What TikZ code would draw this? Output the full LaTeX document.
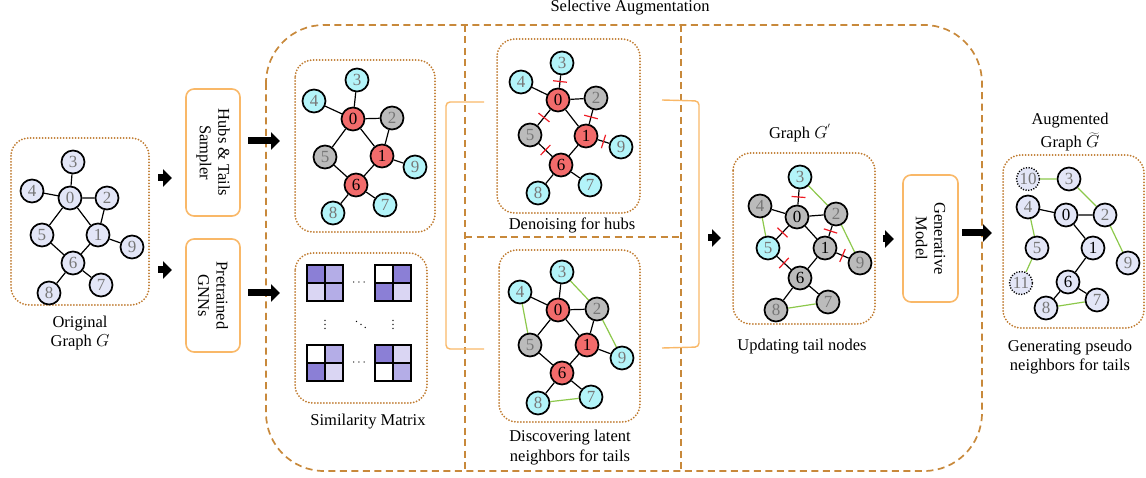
\documentclass[tikz,border=0pt]{standalone}
\usepackage{fontspec}
\setmainfont{Liberation Serif}
\usetikzlibrary{arrows.meta,calc}

\definecolor{dashbrown}{HTML}{C8893B}
\definecolor{dotbrown}{HTML}{BF7A2E}
\definecolor{boxorange}{HTML}{F9B868}
\definecolor{lav}{HTML}{E3E6F7}
\definecolor{cyanf}{HTML}{B3F4F9}
\definecolor{redf}{HTML}{F26B6B}
\definecolor{grayf}{HTML}{BBBBBB}
\definecolor{numgray}{HTML}{777777}
\definecolor{edgegreen}{HTML}{8CC84B}
\definecolor{cutred}{HTML}{EE1C25}
\definecolor{mdark}{HTML}{8B7FD6}
\definecolor{mmed}{HTML}{B4ADE7}
\definecolor{mlight}{HTML}{DAD6F3}

\newcommand\lblfont{\fontsize{16.5}{18.5}\selectfont}
\newcommand\numfont{\fontsize{17}{17}\selectfont}

% one 2x2 block of the similarity matrix: x, y (top left), then the four cell colours
\newcommand\simblock[6]{%
  \fill[#3] (#1,#2) rectangle ++(18,18);
  \fill[#4] (#1+18,#2) rectangle ++(18,18);
  \fill[#5] (#1,#2+18) rectangle ++(18,18);
  \fill[#6] (#1+18,#2+18) rectangle ++(18,18);
  \draw[line width=1.5pt] (#1,#2) rectangle ++(36,36);
  \draw[line width=1.5pt] (#1+18,#2) -- ++(0,36) (#1,#2+18) -- ++(36,0);
}

\tikzset{
  gn/.style={circle, draw=black, line width=1.7pt, minimum size=23pt, inner sep=0pt, font=\numfont, text=numgray},
  lv/.style={gn, fill=lav},
  cy/.style={gn, fill=cyanf},
  rd/.style={gn, fill=redf, text=black},
  gy/.style={gn, fill=grayf},
  hub/.style={text=black},
  ghost/.style={gn, fill=lav, dash pattern=on 1.2pt off 1.5pt, line width=1.4pt},
  ed/.style={line width=1.2pt, black},
  gr/.style={line width=1.2pt, edgegreen},
  cut/.style={sloped, rectangle, draw=cutred, line width=1.2pt, minimum width=0pt, minimum height=14pt, inner sep=0pt},
  dotbox/.style={draw=dotbrown, line width=2pt, dash pattern=on 0pt off 3pt, line cap=round, rounded corners=18pt},
  obox/.style={draw=boxorange, line width=1.6pt, rounded corners=8pt, fill=white},
  bigdash/.style={draw=dashbrown, line width=1.7pt, dash pattern=on 7pt off 4.5pt},
  fat/.style={line width=7pt, -{Triangle[length=9pt,width=17pt]}},
  brk/.style={draw=boxorange, line width=1.4pt, rounded corners=4pt},
  txt/.style={font=\lblfont, align=center, inner sep=0pt},
  mdots/.style={font=\fontsize{12}{12}\selectfont, inner sep=0pt},
}

\begin{document}
\begin{tikzpicture}[x=1pt, y=-1pt]
\useasboundingbox (0,0) rectangle (1146,478);

% ---------- frames ----------
\draw[bigdash, rounded corners=58pt] (266,25) rectangle (982,471);
\draw[bigdash] (465,25) -- (465,471) (681,25) -- (681,471) (465,237) -- (681,237);
\node[txt] (title) at (630,8) {Selective Augmentation};

\draw[dotbox] (11,138) rectangle (149,305);
\draw[dotbox] (295,60) rectangle (435,232);
\draw[dotbox] (295,253) rectangle (427,403);
\draw[dotbox] (497,39) rectangle (640,213);
\draw[dotbox] (499,250) rectangle (640,422);
\draw[dotbox] (733,153) rectangle (875,324);
\draw[dotbox] (1003,155) rectangle (1144,328);

% brackets joining the two middle panels
\draw[brk] (484,102) -- (446,102) -- (446,349) -- (484,349);
\draw[brk] (662,100) -- (699,101) -- (699,347) -- (662,348);

% ---------- process boxes ----------
\node[obox, minimum width=54pt, minimum height=127pt] (hubs) at (213,152.5) {};
\node[txt, rotate=-90] at (hubs.center) {Hubs \& Tails\\Sampler};
\node[obox, minimum width=54pt, minimum height=113pt] (gnn) at (213,295.5) {};
\node[txt, rotate=-90] at (gnn.center) {Pretrained\\GNNs};
\node[obox, minimum width=55pt, minimum height=127pt] (gen) at (930.5,238.5) {};
\node[txt, rotate=-90] at (gen.center) {Generative\\Model};

% ---------- arrows ----------
\coordinate (p1s) at (158,178); \coordinate (p1e) at (172,178);
\coordinate (p2s) at (158,270); \coordinate (p2e) at (172,270);
\coordinate (p3s) at (248,141); \coordinate (p3e) at (280,141);
\coordinate (p4s) at (248,293); \coordinate (p4e) at (280,293);
\coordinate (p5s) at (708,238); \coordinate (p5e) at (721,238);
\coordinate (p6s) at (883,239); \coordinate (p6e) at (894,239);
\coordinate (p7s) at (962,233); \coordinate (p7e) at (992,233);
\foreach \k in {1,...,7} \draw[fat] (p\k s) -- (p\k e);

% ---------- original graph ----------
\begin{scope}[shift={(70,198)}]
\node[lv] (a0) at (0,0) {0};
\node[lv] (a3) at (3,-36) {3};
\node[lv] (a4) at (-38,-7) {4};
\node[lv] (a2) at (37,0) {2};
\node[lv] (a5) at (-28,37) {5};
\node[lv] (a1) at (28,37) {1};
\node[lv] (a9) at (62,49) {9};
\node[lv] (a6) at (3,65) {6};
\node[lv] (a7) at (31,87) {7};
\node[lv] (a8) at (-21,95) {8};
\end{scope}
\draw[ed] (a3)--(a0) (a4)--(a0) (a0)--(a2) (a0)--(a5) (a0)--(a1) (a2)--(a1)
          (a5)--(a6) (a1)--(a6) (a1)--(a9) (a6)--(a8) (a6)--(a7);
\node[txt] at (80,324) {Original};
\node[txt] at (80,342) {Graph $G$};

% ---------- sampled hubs and tails ----------
\begin{scope}[shift={(353,119)}]
\node[rd] (b0) at (0,0) {0};
\node[cy] (b3) at (4,-39) {3};
\node[cy] (b4) at (-39,-18) {4};
\node[gy] (b2) at (39,-1) {2};
\node[gy] (b5) at (-28,38) {5};
\node[rd] (b1) at (29,37) {1};
\node[cy] (b9) at (62,48) {9};
\node[rd] (b6) at (3,66) {6};
\node[cy] (b7) at (32,86) {7};
\node[cy] (b8) at (-20,94) {8};
\end{scope}
\draw[ed] (b3)--(b0) (b4)--(b0) (b0)--(b2) (b0)--(b5) (b0)--(b1) (b2)--(b1)
          (b5)--(b6) (b1)--(b6) (b1)--(b9) (b6)--(b8) (b6)--(b7);

% ---------- similarity matrix ----------
\simblock{307}{265}{mdark}{mmed}{mlight}{mmed}
\simblock{375}{265}{white}{mdark}{mdark}{mlight}
\simblock{307}{345}{white}{mmed}{mdark}{mlight}
\simblock{375}{345}{mdark}{mlight}{white}{mmed}
\node[mdots] at (359,283) {$\cdots$};
\node[mdots] at (359,363) {$\cdots$};
\node[mdots] at (325,322) {$\vdots$};
\node[mdots] at (393,322) {$\vdots$};
\node[mdots] at (361,322) {$\ddots$};
\node[txt] at (368,422) {Similarity Matrix};

% ---------- denoising for hubs ----------
\begin{scope}[shift={(558,100)}]
\node[rd] (c0) at (0,0) {0};
\node[cy] (c3) at (4,-37) {3};
\node[cy] (c4) at (-37,-18) {4};
\node[gy] (c2) at (38,-2) {2};
\node[gy] (c5) at (-28,35) {5};
\node[rd] (c1) at (28,36) {1};
\node[cy] (c9) at (63,47) {9};
\node[rd] (c6) at (3,65) {6};
\node[cy] (c7) at (32,85) {7};
\node[cy] (c8) at (-20,93) {8};
\end{scope}
\draw[ed] (c4)--(c0) (c0)--(c2) (c0)--(c1) (c1)--(c6) (c6)--(c8) (c6)--(c7);
\draw[ed] (c3) -- node[cut]{} (c0);
\draw[ed] (c0) -- node[cut]{} (c5);
\draw[ed] (c2) -- node[cut]{} (c1);
\draw[ed] (c5) -- node[cut]{} (c6);
\draw[ed] (c1) -- node[cut]{} (c9);
\node[txt] at (572,225) {Denoising for hubs};

% ---------- latent neighbours for tails ----------
\begin{scope}[shift={(558,310)}]
\node[rd] (d0) at (0,0) {0};
\node[cy] (d3) at (4,-38) {3};
\node[cy] (d4) at (-38,-18) {4};
\node[gy] (d2) at (39,-1) {2};
\node[gy] (d5) at (-28,35) {5};
\node[rd] (d1) at (29,35) {1};
\node[cy] (d9) at (64,48) {9};
\node[rd] (d6) at (4,63) {6};
\node[cy] (d7) at (33,87) {7};
\node[cy] (d8) at (-20,93) {8};
\end{scope}
\draw[ed] (d3)--(d0) (d4)--(d0) (d0)--(d2) (d0)--(d5) (d0)--(d1) (d2)--(d1)
          (d5)--(d6) (d1)--(d6) (d1)--(d9) (d6)--(d8) (d6)--(d7);
\draw[gr] (d3)--(d2) (d4)--(d5) (d2)--(d9) (d8)--(d7);
\node[txt] at (570,438) {Discovering latent};
\node[txt] at (570,457) {neighbors for tails};

% ---------- updated graph G' ----------
\begin{scope}[shift={(797,217)}]
\node[gy, hub] (e0) at (0,0) {0};
\node[cy] (e3) at (3,-40) {3};
\node[gy] (e4) at (-37,-11) {4};
\node[gy] (e2) at (39,-3) {2};
\node[cy] (e5) at (-29,31) {5};
\node[gy, hub] (e1) at (28,31) {1};
\node[gy] (e9) at (63,46) {9};
\node[gy, hub] (e6) at (3,61) {6};
\node[gy] (e7) at (31,85) {7};
\node[gy] (e8) at (-21,93) {8};
\end{scope}
\draw[ed] (e4)--(e0) (e0)--(e2) (e0)--(e1) (e1)--(e6) (e6)--(e8) (e6)--(e7);
\draw[ed] (e3) -- node[cut]{} (e0);
\draw[ed] (e0) -- node[cut]{} (e5);
\draw[ed] (e2) -- node[cut]{} (e1);
\draw[ed] (e5) -- node[cut]{} (e6);
\draw[ed] (e1) -- node[cut]{} (e9);
\draw[gr] (e3)--(e2) (e4)--(e5) (e2)--(e9) (e8)--(e7);
\node[txt] at (800,133) {Graph $G^{'}$};
\node[txt] at (802,347) {Updating tail nodes};

% ---------- augmented graph ----------
\begin{scope}[shift={(1066,215)}]
\node[lv, hub] (f0) at (0,0) {0};
\node[ghost] (f10) at (-38,-36) {10};
\node[lv] (f3) at (3,-36) {3};
\node[lv] (f4) at (-38,-8) {4};
\node[lv] (f2) at (39,0) {2};
\node[lv] (f5) at (-29,33) {5};
\node[lv, hub] (f1) at (27,33) {1};
\node[lv] (f9) at (62,48) {9};
\node[ghost] (f11) at (-45,68) {11};
\node[lv, hub] (f6) at (2,67) {6};
\node[lv] (f7) at (31,85) {7};
\node[lv] (f8) at (-20,93) {8};
\end{scope}
\draw[ed] (f4)--(f0) (f0)--(f2) (f0)--(f1) (f1)--(f6) (f6)--(f8) (f6)--(f7);
\draw[gr] (f10)--(f3) (f3)--(f2) (f4)--(f5) (f2)--(f9) (f5)--(f11) (f8)--(f7);
\node[txt] at (1070,121) {Augmented};
\node[txt] at (1070,142) {Graph $\widetilde{G}$};
\node[txt] at (1070,348) {Generating pseudo};
\node[txt] at (1070,366) {neighbors for tails};
\end{tikzpicture}
\end{document}
